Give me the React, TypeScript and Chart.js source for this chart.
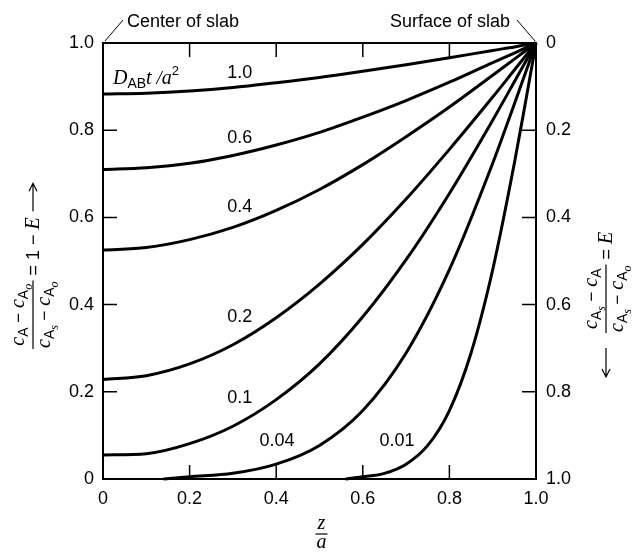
import React, { useEffect, useRef } from "react";
import { Chart, registerables } from "chart.js";

Chart.register(...registerables);

// ---- Data ----
const zMain = [0, 0.1, 0.2, 0.3, 0.4, 0.5, 0.6, 0.7, 0.8, 0.9, 0.95, 1.0];
const tau100 = [0.883, 0.885, 0.890, 0.898, 0.909, 0.921, 0.935, 0.95, 0.966, 0.983, 0.991, 1.0];
const tau060 = [0.71, 0.714, 0.724, 0.742, 0.766, 0.795, 0.83, 0.868, 0.91, 0.955, 0.977, 1.0];
const tau040 = [0.525, 0.531, 0.549, 0.577, 0.616, 0.664, 0.721, 0.785, 0.853, 0.926, 0.963, 1.0];
const tau020 = [0.228, 0.237, 0.264, 0.308, 0.37, 0.447, 0.538, 0.642, 0.756, 0.876, 0.938, 1.0];
const tau010 = [0.055, 0.058, 0.081, 0.121, 0.182, 0.264, 0.372, 0.503, 0.655, 0.823, 0.911, 1.0];
const z004 = [0.14, 0.2, 0.3, 0.4, 0.5, 0.6, 0.7, 0.8, 0.9, 0.95, 1.0];
const tau004 = [0, 0.005, 0.013, 0.034, 0.077, 0.157, 0.289, 0.48, 0.724, 0.86, 1.0];
const z001 = [0.56, 0.6, 0.65, 0.7, 0.75, 0.8, 0.85, 0.9, 0.95, 0.975, 1.0];
const tau001 = [0, 0.005, 0.013, 0.034, 0.077, 0.157, 0.289, 0.48, 0.724, 0.86, 1.0];

const curveNames = ["1.0", "0.6", "0.4", "0.2", "0.1", "0.04", "0.01"];
const xTickValues = [0, 0.2, 0.4, 0.6, 0.8, 1.0];
const yTickValues = [0, 0.2, 0.4, 0.6, 0.8, 1.0];

// label anchors (data coordinates) for the curve annotations
const curveLabelAnchors: [number, number][] = [
  [0.316, 0.931],
  [0.316, 0.782],
  [0.316, 0.624],
  [0.316, 0.372],
  [0.316, 0.186],
  [0.402, 0.087],
  [0.679, 0.087],
];

const SANS = (s: number) => `${s}px 'Liberation Sans', Arial, sans-serif`;
const SERIF_I = (s: number) => `italic ${s}px 'Liberation Serif', 'Times New Roman', serif`;

type Seg = { t: string; font: string; dy?: number };

function segWidth(ctx: CanvasRenderingContext2D, segs: Seg[]) {
  let w = 0;
  for (const s of segs) {
    ctx.font = s.font;
    w += ctx.measureText(s.t).width;
  }
  return w;
}

function drawSegs(ctx: CanvasRenderingContext2D, segs: Seg[], x: number, y: number) {
  let cx = x;
  for (const s of segs) {
    ctx.font = s.font;
    ctx.fillText(s.t, cx, y + (s.dy || 0));
    cx += ctx.measureText(s.t).width;
  }
  return cx;
}

function cA(sub2: string | null): Seg[] {
  const segs: Seg[] = [
    { t: "c", font: SERIF_I(20) },
    { t: "A", font: SANS(14), dy: 4 },
  ];
  if (sub2) segs.push({ t: sub2, font: SERIF_I(12), dy: 8 });
  return segs;
}

const minus: Seg = { t: " \u2212 ", font: SANS(17) };

function drawFraction(
  ctx: CanvasRenderingContext2D,
  num: Seg[],
  den: Seg[],
  x: number,
  y: number
) {
  const wn = segWidth(ctx, num);
  const wd = segWidth(ctx, den);
  const W = Math.max(wn, wd) + 2;
  ctx.beginPath();
  ctx.moveTo(x, y);
  ctx.lineTo(x + W, y);
  ctx.lineWidth = 1.2;
  ctx.stroke();
  drawSegs(ctx, num, x + (W - wn) / 2, y - 9);
  drawSegs(ctx, den, x + (W - wd) / 2, y + 17);
  return x + W;
}

function drawArrow(ctx: CanvasRenderingContext2D, x0: number, x1: number, y: number) {
  const dir = x1 > x0 ? 1 : -1;
  ctx.beginPath();
  ctx.moveTo(x0, y);
  ctx.lineTo(x1, y);
  ctx.moveTo(x1 - dir * 8, y - 4);
  ctx.lineTo(x1, y);
  ctx.lineTo(x1 - dir * 8, y + 4);
  ctx.lineWidth = 1.2;
  ctx.stroke();
}

const decorPlugin = {
  id: "decor",
  afterDraw(chart: any) {
    const ctx: CanvasRenderingContext2D = chart.ctx;
    const xs = chart.scales.x;
    const ys = chart.scales.y;
    const { left, right, top, bottom } = chart.chartArea;
    ctx.save();
    ctx.strokeStyle = "#000";
    ctx.fillStyle = "#000";

    // inward tick marks
    const TL = 14;
    ctx.lineWidth = 1.5;
    ctx.beginPath();
    for (const v of xTickValues) {
      if (v <= 0 || v >= 1) continue;
      const px = xs.getPixelForValue(v);
      ctx.moveTo(px, bottom);
      ctx.lineTo(px, bottom - TL);
      ctx.moveTo(px, top);
      ctx.lineTo(px, top + TL);
    }
    for (const v of yTickValues) {
      if (v <= 0 || v >= 1) continue;
      const py = ys.getPixelForValue(v);
      ctx.moveTo(left, py);
      ctx.lineTo(left + TL, py);
      ctx.moveTo(right, py);
      ctx.lineTo(right - TL, py);
    }
    ctx.stroke();

    // curve labels
    ctx.textAlign = "center";
    ctx.textBaseline = "middle";
    ctx.font = SANS(18);
    curveNames.forEach((n, i) => {
      const [lx, ly] = curveLabelAnchors[i];
      ctx.fillText(n, xs.getPixelForValue(lx), ys.getPixelForValue(ly));
    });

    // D_AB t / a^2 label
    ctx.textAlign = "left";
    ctx.textBaseline = "alphabetic";
    drawSegs(
      ctx,
      [
        { t: "D", font: SERIF_I(20) },
        { t: "AB", font: SANS(14), dy: 4 },
        { t: "t", font: SERIF_I(20) },
        { t: " /", font: SERIF_I(19) },
        { t: "a", font: SERIF_I(20) },
        { t: "2", font: SANS(13), dy: -9 },
      ],
      xs.getPixelForValue(0.023),
      ys.getPixelForValue(0.905)
    );

    // top annotations
    ctx.lineWidth = 1;
    ctx.beginPath();
    ctx.moveTo(left + 2, top - 2);
    ctx.lineTo(left + 20, top - 23);
    ctx.moveTo(right - 1, top - 2);
    ctx.lineTo(right - 19, top - 23);
    ctx.stroke();
    ctx.font = SANS(18);
    ctx.textAlign = "left";
    ctx.fillText("Center of slab", left + 24, top - 16);
    ctx.textAlign = "right";
    ctx.fillText("Surface of slab", right - 26, top - 16);

    // x axis title z / a
    const cx = (left + right) / 2 + 2;
    ctx.textAlign = "center";
    ctx.font = SERIF_I(20);
    ctx.fillText("z", cx, bottom + 50);
    ctx.beginPath();
    ctx.lineWidth = 1.2;
    ctx.moveTo(cx - 6, bottom + 55);
    ctx.lineTo(cx + 6, bottom + 55);
    ctx.stroke();
    ctx.fillText("a", cx, bottom + 69);

    // left y title (rotated)
    ctx.textAlign = "left";
    ctx.save();
    ctx.translate(33, 349);
    ctx.rotate(-Math.PI / 2);
    let u = drawFraction(
      ctx,
      [...cA(null), minus, ...cA("o")],
      [...cA("s"), minus, ...cA("o")],
      0,
      0
    );
    u = drawSegs(
      ctx,
      [
        { t: " = 1 \u2212 ", font: SANS(18) },
        { t: "E", font: SERIF_I(20) },
      ],
      u,
      6
    );
    drawArrow(ctx, u + 6, u + 34, 0);
    ctx.restore();

    // right y title (rotated)
    ctx.save();
    ctx.translate(606, 333);
    ctx.rotate(-Math.PI / 2);
    drawArrow(ctx, -15, -44, 0);
    let u2 = drawFraction(
      ctx,
      [...cA("s"), minus, ...cA(null)],
      [...cA("s"), minus, ...cA("o")],
      0,
      0
    );
    drawSegs(
      ctx,
      [
        { t: " = ", font: SANS(18) },
        { t: "E", font: SERIF_I(20) },
      ],
      u2,
      6
    );
    ctx.restore();

    ctx.restore();
  },
};

function pts(xv: number[], yv: number[]) {
  return xv.map((x, i) => ({ x, y: yv[i] }));
}

const fmt = (v: any) => {
  const n = Number(v);
  if (Math.abs(n) < 1e-9) return "0";
  return n.toFixed(1);
};

export default function App() {
  const ref = useRef<HTMLCanvasElement | null>(null);
  useEffect(() => {
    if (!ref.current) return;
    const series = [
      pts(zMain, tau100),
      pts(zMain, tau060),
      pts(zMain, tau040),
      pts(zMain, tau020),
      pts(zMain, tau010),
      pts(z004, tau004),
      pts(z001, tau001),
    ];
    const chart = new Chart(ref.current, {
      type: "line",
      data: {
        datasets: series.map((d, i) => ({
          label: curveNames[i],
          data: d,
          borderColor: "#000",
          borderWidth: 3,
          pointRadius: 0,
          fill: false,
          cubicInterpolationMode: "monotone" as const,
          clip: false as any,
        })),
      },
      options: {
        animation: false,
        responsive: false,
        devicePixelRatio: 1,
        layout: { padding: 0 },
        plugins: { legend: { display: false }, tooltip: { enabled: false } },
        scales: {
          x: {
            type: "linear",
            position: "bottom",
            min: 0,
            max: 1,
            afterFit: (s: any) => {
              s.height = 75;
            },
            afterBuildTicks: (s: any) => {
              s.ticks = xTickValues.map((v) => ({ value: v }));
            },
            ticks: {
              callback: fmt,
              color: "#000",
              font: { size: 18, family: "'Liberation Sans', Arial, sans-serif" },
              padding: 9,
              maxRotation: 0,
            },
            grid: { display: false, drawTicks: false },
            border: { display: true, color: "#000", width: 2 },
          },
          x2: {
            type: "linear",
            position: "top",
            min: 0,
            max: 1,
            afterFit: (s: any) => {
              s.height = 43;
            },
            ticks: { display: false },
            grid: { display: false, drawTicks: false },
            border: { display: true, color: "#000", width: 2 },
          },
          y: {
            type: "linear",
            position: "left",
            min: 0,
            max: 1,
            afterFit: (s: any) => {
              s.width = 103;
            },
            afterBuildTicks: (s: any) => {
              s.ticks = yTickValues.map((v) => ({ value: v }));
            },
            ticks: {
              callback: fmt,
              color: "#000",
              font: { size: 18, family: "'Liberation Sans', Arial, sans-serif" },
              padding: 9,
            },
            grid: { display: false, drawTicks: false },
            border: { display: true, color: "#000", width: 2 },
          },
          y2: {
            type: "linear",
            position: "right",
            reverse: true,
            min: 0,
            max: 1,
            afterFit: (s: any) => {
              s.width = 98;
            },
            afterBuildTicks: (s: any) => {
              s.ticks = yTickValues.map((v) => ({ value: v }));
            },
            ticks: {
              callback: fmt,
              color: "#000",
              font: { size: 18, family: "'Liberation Sans', Arial, sans-serif" },
              padding: 10,
            },
            grid: { display: false, drawTicks: false },
            border: { display: true, color: "#000", width: 2 },
          },
        },
      },
      plugins: [decorPlugin],
    } as any);
    return () => chart.destroy();
  }, []);
  return (
    <div style={{ position: "absolute", left: 0, top: 0, width: 634, height: 554, background: "#fff" }}>
      <canvas ref={ref} width={634} height={554} style={{ display: "block" }} />
    </div>
  );
}
